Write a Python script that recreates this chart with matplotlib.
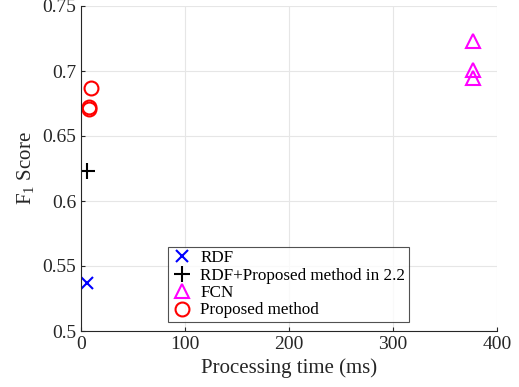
import matplotlib.pyplot as plt

plt.rcParams['font.family'] = ['Liberation Serif', 'DejaVu Serif']
plt.rcParams['mathtext.fontset'] = 'custom'
plt.rcParams['mathtext.rm'] = 'Liberation Serif'

# Données
rdf_time = [6]
rdf_f1 = [0.537]
rdf_plus_time = [6]
rdf_plus_f1 = [0.623]
fcn_time = [377, 377, 377]
fcn_f1 = [0.723, 0.701, 0.695]
prop_time = [10, 8, 8]
prop_f1 = [0.687, 0.672, 0.671]

fig = plt.figure(figsize=(5.19, 3.87), dpi=100)
ax = fig.add_axes([81/519, 1 - 331/387, 416/519, 325/387])

ax.plot(rdf_time, rdf_f1, 'x', color='#0000ff', ms=8, mew=1.5, label='RDF')
ax.plot(rdf_plus_time, rdf_plus_f1, '+', color='black', ms=12, mew=1.5, label='RDF+Proposed method in 2.2')
ax.plot(fcn_time, fcn_f1, '^', mfc='none', mec='#ff00ff', ms=10, mew=1.5, label='FCN')
ax.plot(prop_time, prop_f1, 'o', mfc='none', mec='#ff0000', ms=10, mew=1.5, label='Proposed method')

ax.set_xlim(0, 400)
ax.set_ylim(0.5, 0.75)
ax.set_xticks([0, 100, 200, 300, 400])
ax.set_yticks([0.5, 0.55, 0.6, 0.65, 0.7, 0.75])
ax.set_yticklabels(['0.5', '0.55', '0.6', '0.65', '0.7', '0.75'])
ax.grid(True, color='#e6e6e6', lw=0.8)
ax.set_axisbelow(True)
for s in ['top', 'right']:
    ax.spines[s].set_visible(False)
for s in ['left', 'bottom']:
    ax.spines[s].set_color('#262626')
    ax.spines[s].set_linewidth(0.8)
ax.tick_params(direction='in', length=3, labelsize=14, colors='#262626')
ax.set_xlabel('Processing time (ms)', fontsize=15, color='#262626')
ax.set_ylabel(r'F$_1$ Score', fontsize=15, color='#262626')

leg = ax.legend(loc='lower left', bbox_to_anchor=(0.209, 0.028), borderaxespad=0,
                fontsize=12.3, frameon=True, fancybox=False, edgecolor='#262626',
                handletextpad=0.4, labelspacing=0.08, borderpad=0.2, handlelength=1.3)
leg.get_frame().set_linewidth(0.8)

plt.savefig('out.png', dpi=100)
